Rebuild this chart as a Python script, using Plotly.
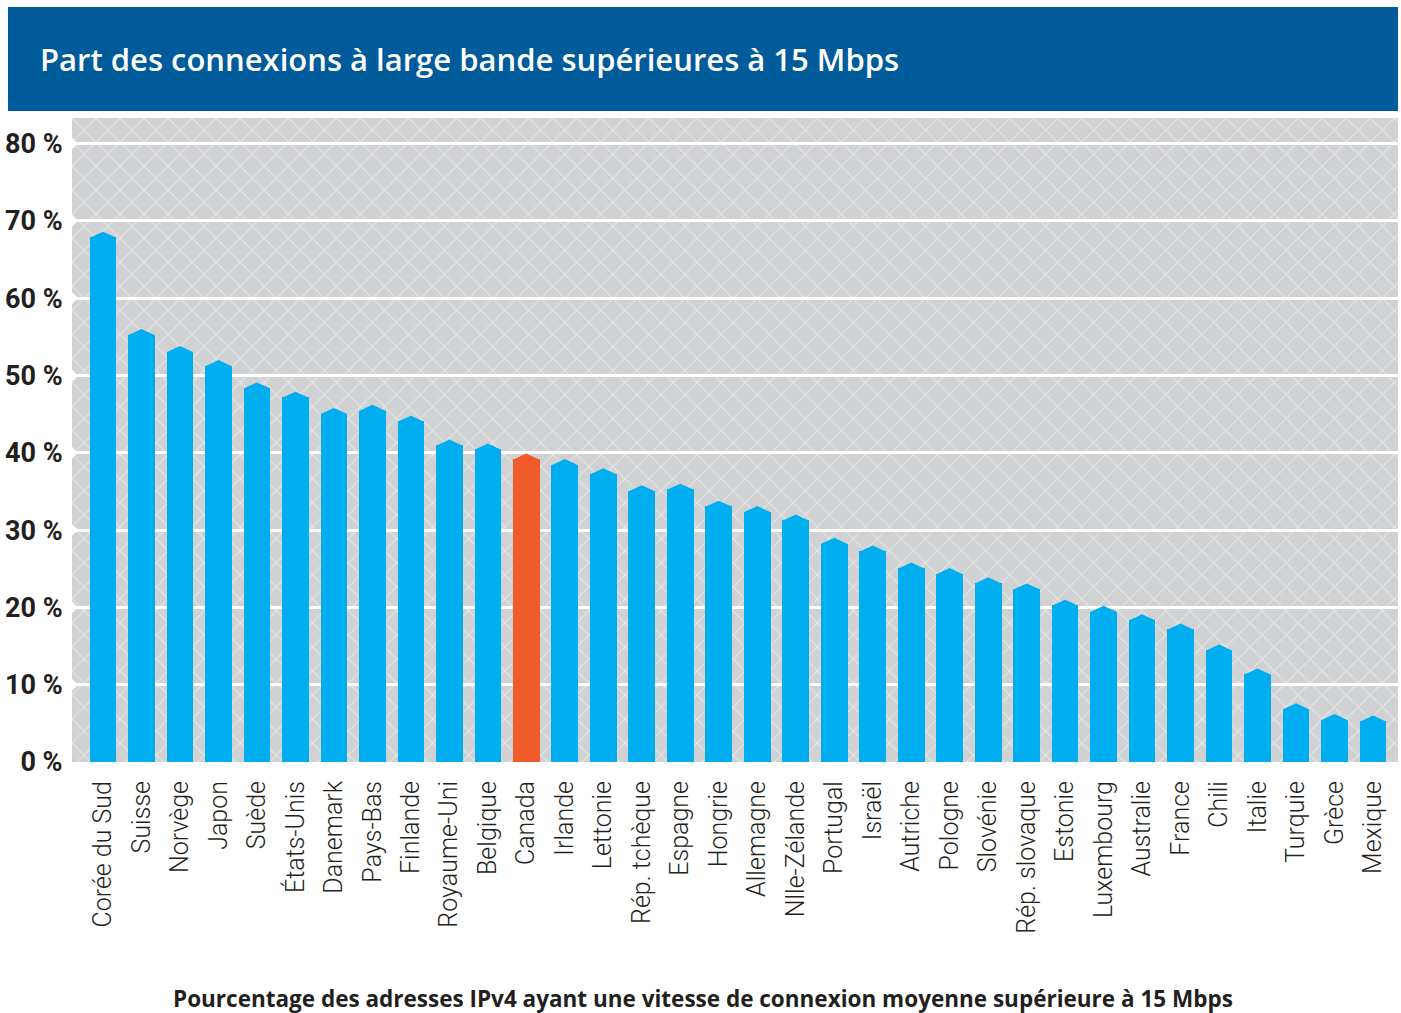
import plotly.graph_objects as go

# Part des connexions > 15 Mbps, par pays (%)
countries = [
    "Corée du Sud", "Suisse", "Norvège", "Japon", "Suède", "États-Unis",
    "Danemark", "Pays-Bas", "Finlande", "Royaume-Uni", "Belgique", "Canada",
    "Irlande", "Lettonie", "Rép. tchèque", "Espagne", "Hongrie", "Allemagne",
    "Nlle-Zélande", "Portugal", "Israël", "Autriche", "Pologne", "Slovénie",
    "Rép. slovaque", "Estonie", "Luxembourg", "Australie", "France", "Chili",
    "Italie", "Turquie", "Grèce", "Mexique",
]
shares = [
    68.6, 56.0, 53.8, 52.0, 49.1, 47.9,
    45.8, 46.2, 44.8, 41.7, 41.2, 39.9,
    39.2, 38.0, 35.8, 36.0, 33.8, 33.1,
    32.0, 29.0, 28.0, 25.8, 25.1, 23.9,
    23.1, 21.0, 20.2, 19.1, 17.9, 15.2,
    12.1, 7.6, 6.2, 6.0,
]
highlight = "Canada"

y_ticks = [0, 10, 20, 30, 40, 50, 60, 70, 80]
y_tick_text = [f"{v} %" for v in y_ticks]

BLUE = "#00aeef"
ORANGE = "#f15a29"
HEADER = "#005b9a"
PANEL = "#d0d1d3"
INK = "#231f20"

X_MIN, X_MAX = -0.806, 33.65
Y_MAX = 83.3
BAR_W = 0.694
CAP_H = 0.75      # height of the pointed bar top, in %
GRID_H = 0.38     # thickness of white grid bands, in %
NOTCH_H = 0.75    # half-height of the notch at the left end of each band
NOTCH_W = 0.16

idx = list(range(len(countries)))
colors = [ORANGE if c == highlight else BLUE for c in countries]

fig = go.Figure()

# hatched panel background
fig.add_trace(go.Bar(
    x=[(X_MIN + X_MAX) / 2], y=[Y_MAX], width=[X_MAX - X_MIN], base=[0],
    marker=dict(
        color=PANEL, line=dict(width=0),
        pattern=dict(shape="x", fgcolor="rgba(255,255,255,0.95)",
                     bgcolor=PANEL, size=17, solidity=0.12),
    ),
    hoverinfo="skip", showlegend=False,
))

# white grid bands sitting behind the bars
grid_vals = [v for v in y_ticks if v > 0]
fig.add_trace(go.Bar(
    x=[(X_MIN + X_MAX) / 2] * len(grid_vals),
    y=[GRID_H] * len(grid_vals),
    base=[v - GRID_H / 2 for v in grid_vals],
    width=[X_MAX - X_MIN] * len(grid_vals),
    marker=dict(color="white", line=dict(width=0)),
    hoverinfo="skip", showlegend=False,
))

# bar bodies
fig.add_trace(go.Bar(
    x=idx, y=[v - CAP_H for v in shares], width=BAR_W,
    marker=dict(color=colors, line=dict(width=0)),
    customdata=shares, hovertemplate="%{customdata} %<extra></extra>",
    showlegend=False,
))

# pointed tops
for color in (BLUE, ORANGE):
    xs, ys = [], []
    for i, (c, v) in enumerate(zip(colors, shares)):
        if c != color:
            continue
        xs += [i - BAR_W / 2, i, i + BAR_W / 2, i - BAR_W / 2, None]
        ys += [v - CAP_H - 0.05, v, v - CAP_H - 0.05, v - CAP_H - 0.05, None]
    fig.add_trace(go.Scatter(
        x=xs, y=ys, mode="lines", fill="toself", fillcolor=color,
        line=dict(width=0, color=color), hoverinfo="skip", showlegend=False,
    ))

# small notches where the bands meet the left edge
nx, ny = [], []
for v in grid_vals:
    nx += [X_MIN, X_MIN + NOTCH_W, X_MIN, X_MIN, None]
    ny += [v - NOTCH_H, v, v + NOTCH_H, v - NOTCH_H, None]
fig.add_trace(go.Scatter(
    x=nx, y=ny, mode="lines", fill="toself", fillcolor="white",
    line=dict(width=0, color="white"), hoverinfo="skip", showlegend=False,
))

# header band
fig.add_shape(type="rect", xref="paper", yref="paper",
              x0=-0.0483, x1=1.0, y0=1.0109, y1=1.1724,
              fillcolor=HEADER, line=dict(width=0), layer="above")

fig.add_annotation(
    text="Pourcentage des adresses IPv4 ayant une vitesse de connexion moyenne supérieure à 15 Mbps",
    xref="paper", yref="paper", x=0.4759, y=-0.368,
    xanchor="center", yanchor="middle", showarrow=False,
    font=dict(family="Open Sans", size=22.5, color=INK, weight=700),
)

fig.update_layout(
    width=1401, height=1013,
    margin=dict(l=72, r=3, t=118, b=251),
    paper_bgcolor="white", plot_bgcolor=PANEL,
    barmode="overlay", bargap=0,
    title=dict(
        text="Part des connexions à large bande supérieures à 15 Mbps",
        xref="container", yref="container",
        x=40 / 1401, y=1 - 60 / 1013, xanchor="left", yanchor="middle",
        font=dict(family="Open Sans", size=31, color="white", weight=600),
    ),
    xaxis=dict(
        range=[X_MIN, X_MAX], tickmode="array", tickvals=idx, ticktext=countries,
        tickangle=-90, showgrid=False, zeroline=False, showline=False,
        ticks="outside", ticklen=8, tickcolor="rgba(0,0,0,0)",
        tickfont=dict(family="Roboto", size=25, color=INK, weight=300),
    ),
    yaxis=dict(
        range=[0, Y_MAX], tickmode="array", tickvals=y_ticks, ticktext=y_tick_text,
        showgrid=False, zeroline=False, showline=False,
        ticks="outside", ticklen=3, tickcolor="rgba(0,0,0,0)",
        tickfont=dict(family="Roboto", size=27, color=INK, weight=700),
    ),
)

fig.write_html("out.html")
